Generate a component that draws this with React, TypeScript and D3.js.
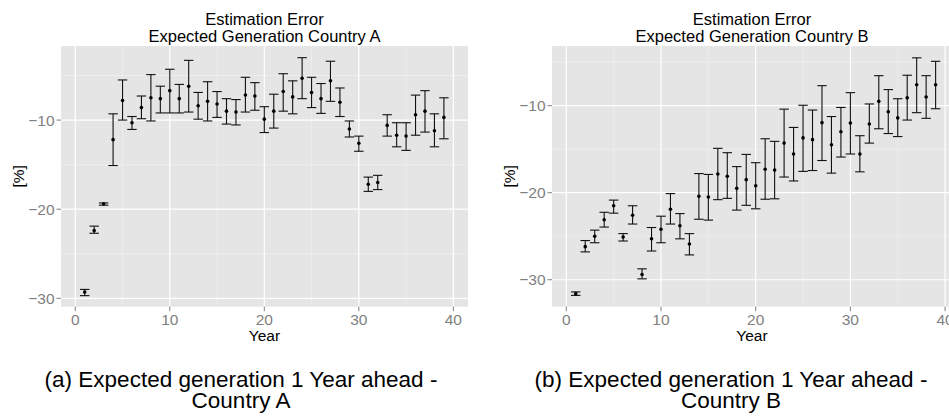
import React, { useEffect, useRef } from 'react'
import * as d3 from 'd3'

// years on the x axis (same for both countries)
const years = [1, 2, 3, 4, 5, 6, 7, 8, 9, 10, 11, 12, 13, 14, 15, 16, 17, 18, 19, 20,
	21, 22, 23, 24, 25, 26, 27, 28, 29, 30, 31, 32, 33, 34, 35, 36, 37, 38, 39]

// Country A : mean error, upper and lower bound [%]
const meanA = [-29.3, -22.4, -19.4, -12.2, -7.8, -10.3, -8.6, -7.5, -7.6, -6.7, -7.6, -6.2, -8.4, -7.9, -8.2, -9.0, -9.1, -7.2, -7.3, -9.9,
	-9.0, -6.8, -7.4, -5.3, -6.9, -7.6, -5.6, -8.0, -11.0, -12.6, -17.2, -17.0, -10.6, -11.7, -11.8, -9.4, -9.0, -11.2, -9.7]
const highA = [-29.0, -21.9, -19.3, -9.3, -5.5, -9.6, -7.3, -4.9, -6.2, -4.3, -6.0, -3.3, -6.9, -5.7, -6.8, -7.6, -7.7, -5.2, -5.8, -8.5,
	-7.1, -4.8, -5.6, -3.0, -5.2, -5.9, -3.4, -6.4, -10.1, -11.8, -16.4, -16.2, -9.4, -10.3, -10.3, -7.2, -6.7, -9.3, -7.5]
const lowA = [-29.7, -22.7, -19.55, -15.1, -10.0, -11.05, -9.85, -10.1, -9.2, -9.2, -9.2, -9.1, -9.9, -10.1, -9.7, -10.45, -10.55, -9.1, -8.9, -11.4,
	-10.9, -9.0, -9.3, -7.6, -8.6, -9.25, -7.9, -9.6, -11.9, -13.5, -18.0, -17.8, -11.8, -13.0, -13.4, -11.7, -11.35, -13.0, -12.1]

// Country B
const meanB = [-31.6, -26.2, -25.0, -23.1, -21.5, -25.1, -22.6, -29.4, -25.3, -24.2, -21.9, -23.8, -25.9, -20.4, -20.5, -17.85, -18.1, -19.5, -18.5, -19.2,
	-17.3, -17.4, -14.3, -15.55, -13.7, -13.9, -11.95, -14.5, -13.0, -12.0, -15.55, -12.1, -9.5, -10.7, -11.4, -9.1, -7.6, -9.0, -7.6]
const highB = [-31.4, -25.5, -24.3, -22.25, -20.85, -24.7, -21.5, -28.75, -24.0, -22.7, -20.1, -22.4, -24.7, -17.8, -17.9, -14.9, -15.4, -17.0, -15.6, -16.55,
	-13.8, -14.1, -10.4, -12.5, -9.95, -10.5, -7.7, -11.25, -10.2, -8.5, -13.45, -9.8, -6.55, -8.15, -9.2, -6.5, -4.5, -6.55, -4.9]
const lowB = [-31.8, -26.8, -25.75, -23.95, -22.35, -25.55, -23.6, -29.9, -26.7, -25.75, -23.6, -25.3, -27.15, -23.05, -23.15, -20.8, -20.65, -22.0, -21.45, -21.85,
	-20.75, -20.7, -18.2, -18.65, -17.55, -17.45, -16.3, -17.75, -15.9, -15.55, -17.6, -14.3, -12.65, -13.2, -13.55, -11.65, -10.8, -11.45, -10.35]

const xTicks = [0, 10, 20, 30, 40]
const xMinor = [5, 15, 25, 35]
const yTicks = [-30, -20, -10]
const yMinor = [-25, -15, -5]

const FONT = '"Liberation Sans", Arial, sans-serif'

const panels = [
	{
		title: ['Estimation Error', 'Expected Generation Country A'],
		caption: ['(a) Expected generation 1 Year ahead -', 'Country A'],
		mean: meanA, high: highA, low: lowA,
		left: 61, right: 468, xDomain: [-1.51, 41.55], yDomain: [-30.94, -1.69],
		ylabX: 19, capX: 241,
	},
	{
		title: ['Estimation Error', 'Expected Generation Country B'],
		caption: ['(b) Expected generation 1 Year ahead -', 'Country B'],
		mean: meanB, high: highB, low: lowB,
		left: 552, right: 952, xDomain: [-1.51, 40.73], yDomain: [-33.1, -3.14],
		ylabX: 509.7, capX: 731,
	},
]

const top = 46
const bottom = 306.7

const App = () => {
	const ref = useRef(null)

	useEffect(() => {
		const svg = d3.select(ref.current)
		svg.selectAll('*').remove()

		panels.forEach(p => {
			const x = d3.scaleLinear().domain(p.xDomain).range([p.left, p.right])
			const y = d3.scaleLinear().domain(p.yDomain).range([bottom, top])
			const g = svg.append('g')
			const cx = (p.left + p.right) / 2

			// panel background
			g.append('rect')
				.attr('x', p.left).attr('y', top)
				.attr('width', p.right - p.left).attr('height', bottom - top)
				.attr('fill', '#e5e5e5')

			// minor grid
			g.selectAll('.vmin').data(xMinor).enter().append('line')
				.attr('x1', d => x(d)).attr('x2', d => x(d)).attr('y1', top).attr('y2', bottom)
				.attr('stroke', '#f2f2f2').attr('stroke-width', 0.6)
			g.selectAll('.hmin').data(yMinor).enter().append('line')
				.attr('x1', p.left).attr('x2', p.right).attr('y1', d => y(d)).attr('y2', d => y(d))
				.attr('stroke', '#f2f2f2').attr('stroke-width', 0.6)
			// major grid
			g.selectAll('.vmaj').data(xTicks).enter().append('line')
				.attr('x1', d => x(d)).attr('x2', d => x(d)).attr('y1', top).attr('y2', bottom)
				.attr('stroke', '#ffffff').attr('stroke-width', 1.2)
			g.selectAll('.hmaj').data(yTicks).enter().append('line')
				.attr('x1', p.left).attr('x2', p.right).attr('y1', d => y(d)).attr('y2', d => y(d))
				.attr('stroke', '#ffffff').attr('stroke-width', 1.2)

			// tick marks + labels
			g.selectAll('.xt').data(xTicks).enter().append('line')
				.attr('x1', d => x(d)).attr('x2', d => x(d)).attr('y1', bottom).attr('y2', bottom + 4.5)
				.attr('stroke', '#7f7f7f').attr('stroke-width', 1)
			g.selectAll('.xl').data(xTicks).enter().append('text')
				.attr('x', d => x(d)).attr('y', 325)
				.attr('text-anchor', 'middle')
				.attr('fill', '#7f7f7f')
				.style('font-size', '15.5px')
				.text(d => d3.format('d')(d))
			g.selectAll('.yt').data(yTicks).enter().append('line')
				.attr('x1', p.left - 4.5).attr('x2', p.left).attr('y1', d => y(d)).attr('y2', d => y(d))
				.attr('stroke', '#7f7f7f').attr('stroke-width', 1)
			g.selectAll('.yl').data(yTicks).enter().append('text')
				.attr('x', p.left - 6.5).attr('y', d => y(d)).attr('dy', '0.36em')
				.attr('text-anchor', 'end')
				.attr('fill', '#7f7f7f')
				.style('font-size', '15.5px')
				.text(d => d3.format('d')(d))

			// error bars
			const half = 0.5
			const bars = g.selectAll('.bar').data(years).enter().append('g')
			bars.append('line')
				.attr('x1', d => x(d)).attr('x2', d => x(d))
				.attr('y1', (d, i) => y(p.high[i])).attr('y2', (d, i) => y(p.low[i]))
			bars.append('line')
				.attr('x1', d => x(d - half)).attr('x2', d => x(d + half))
				.attr('y1', (d, i) => y(p.high[i])).attr('y2', (d, i) => y(p.high[i]))
			bars.append('line')
				.attr('x1', d => x(d - half)).attr('x2', d => x(d + half))
				.attr('y1', (d, i) => y(p.low[i])).attr('y2', (d, i) => y(p.low[i]))
			bars.selectAll('line').attr('stroke', '#111').attr('stroke-width', 1.1)
			bars.append('circle')
				.attr('cx', d => x(d)).attr('cy', (d, i) => y(p.mean[i]))
				.attr('r', 1.8).attr('fill', '#000')

			// titles
			g.append('text').attr('x', cx).attr('y', 25).attr('text-anchor', 'middle')
				.style('font-size', '16.5px').text(p.title[0])
			g.append('text').attr('x', cx).attr('y', 42).attr('text-anchor', 'middle')
				.style('font-size', '16.5px').text(p.title[1])

			// axis titles
			g.append('text').attr('x', cx).attr('y', 340.7).attr('text-anchor', 'middle')
				.style('font-size', '15.5px').text('Year')
			g.append('text')
				.attr('transform', `translate(${p.ylabX},${(top + bottom) / 2}) rotate(-90)`)
				.attr('text-anchor', 'middle').attr('dy', '0.35em')
				.style('font-size', '15.5px').text('[%]')

			// subfigure caption
			g.append('text').attr('x', p.capX).attr('y', 386.7).attr('text-anchor', 'middle')
				.style('font-size', '22.5px').text(p.caption[0])
			g.append('text').attr('x', p.capX).attr('y', 407.7).attr('text-anchor', 'middle')
				.style('font-size', '22.5px').text(p.caption[1])
		})
	}, [])

	return (
		<svg
			ref={ref}
			width={949}
			height={419}
			style={{ position: 'absolute', left: 0, top: 0, background: '#fff', fontFamily: FONT }}
		></svg>
	)
}

export default App
